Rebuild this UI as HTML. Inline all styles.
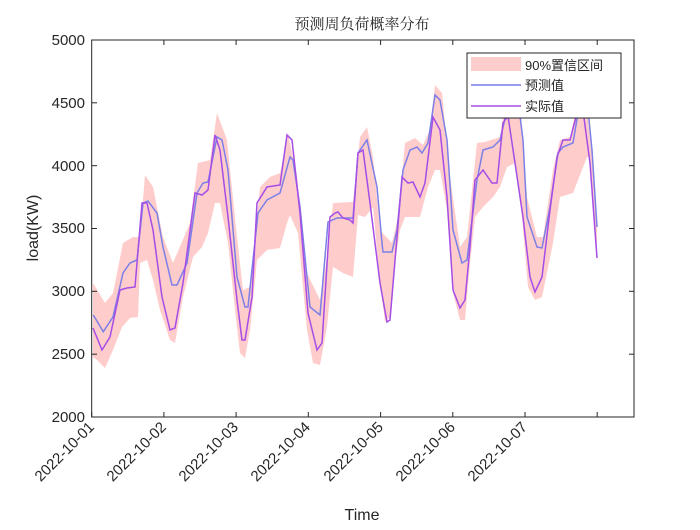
<!DOCTYPE html><html><head><meta charset="utf-8"><style>body{margin:0;background:#fff}svg text{font-family:"Liberation Sans","Noto Sans CJK SC",sans-serif}</style></head><body>
<svg width="700" height="525" viewBox="0 0 700 525" xmlns="http://www.w3.org/2000/svg">
<rect width="700" height="525" fill="#fff"/>
<polygon fill="#ffcccc" points="93,283 105,303 113,293 123,243 133,237 140,237 145,175 153,187 163,237 173,263 190,223 198,163 210,160 217,113 227,140 237,237 243,290 250,287 260,187 270,177 280,173 288,133 297,177 307,273 320,300 327,257 333,203 353,202 360,137 367,127 373,157 380,230 392,243 398,217 405,143 415,138 423,145 430,130 435,85 442,93 450,177 460,247 467,237 477,143 485,142 500,137 508,82 520,107 527,197 537,237 543,237 553,170 560,140 570,137 578,102 585,95 593,163 597,223 597,260 590,157 587,157 573,193 560,197 553,243 542,297 535,300 528,287 522,217 515,163 507,167 500,187 493,197 483,207 475,217 470,263 465,320 460,320 453,293 447,210 440,170 435,170 428,187 420,217 410,217 405,217 400,230 395,263 390,317 385,322 380,283 373,207 365,217 358,215 353,277 343,273 333,267 327,327 320,365 313,363 307,330 298,233 290,215 287,223 280,248 267,250 257,260 250,330 245,358 240,353 235,310 228,243 220,203 215,203 208,233 202,247 193,257 183,297 175,343 170,340 160,310 153,280 147,260 140,263 138,317 130,318 122,327 113,350 105,368 97,360 93,357"/>
<polyline fill="none" stroke="#7b7fe6" stroke-width="1.5" points="93.3,315 103.3,331.7 113,317 123,273 130,263 137,260 143,203 148,201 157,213 163,247 172,285 177,285 187,263 197,193 203,183 208,182 217,137 222,140 228,170 237,277 245,307 248,307 258,213 267,200 280,193 290,157 293,160 300,207 310,307 320,315 328,222 337,218 353,218 358,153 367,140 377,187 382,243 383,252 392,252 397,230 403,170 410,150 417,147 422,153 428,143 435,95 440,100 447,140 453,230 462,263 467,260 477,180 483,150 493,147 500,140 507,110 512,90 518,100 523,140 527,217 537,247 542,248 550,207 558,153 563,147 573,143 578,113 583,90 588,110 592,150 597,227"/>
<polyline fill="none" stroke="#a54de6" stroke-width="1.5" points="93,328 102,350 110,337 120,290 127,288 135,287 142,203 147,203 153,230 162,297 170,330 175,328 183,283 195,193 202,195 208,190 215,135 220,150 228,217 237,300 242,340 245,340 252,297 257,203 267,187 280,185 287,135 292,140 300,213 308,313 317,350 322,343 330,217 335,213 338,212 343,218 350,220 353,223 358,153 363,150 370,203 380,283 387,322 390,320 397,237 402,177 408,183 413,182 420,197 425,183 433,117 440,130 447,197 453,290 460,308 465,300 470,247 475,180 483,170 492,183 497,183 503,123 508,116 515,163 523,217 530,277 535,292 542,277 550,210 557,157 563,140 570,140 577,113 582,103 590,163 597,258"/>
<rect x="91.7" y="40" width="542.3" height="377" fill="none" stroke="#262626" stroke-width="1"/>
<g stroke="#262626" stroke-width="1">
<line x1="91.7" y1="417" x2="91.7" y2="412"/><line x1="163.9" y1="417" x2="163.9" y2="412"/><line x1="236.1" y1="417" x2="236.1" y2="412"/><line x1="308.3" y1="417" x2="308.3" y2="412"/><line x1="380.6" y1="417" x2="380.6" y2="412"/><line x1="452.8" y1="417" x2="452.8" y2="412"/><line x1="525" y1="417" x2="525" y2="412"/><line x1="597.2" y1="417" x2="597.2" y2="412"/>
<line x1="163.9" y1="40" x2="163.9" y2="45"/><line x1="236.1" y1="40" x2="236.1" y2="45"/><line x1="308.3" y1="40" x2="308.3" y2="45"/><line x1="380.6" y1="40" x2="380.6" y2="45"/><line x1="452.8" y1="40" x2="452.8" y2="45"/><line x1="525" y1="40" x2="525" y2="45"/><line x1="597.2" y1="40" x2="597.2" y2="45"/>
<line x1="91.7" y1="102.8" x2="97" y2="102.8"/><line x1="91.7" y1="165.7" x2="97" y2="165.7"/><line x1="91.7" y1="228.5" x2="97" y2="228.5"/><line x1="91.7" y1="291.3" x2="97" y2="291.3"/><line x1="91.7" y1="354.2" x2="97" y2="354.2"/>
<line x1="634" y1="102.8" x2="629" y2="102.8"/><line x1="634" y1="165.7" x2="629" y2="165.7"/><line x1="634" y1="228.5" x2="629" y2="228.5"/><line x1="634" y1="291.3" x2="629" y2="291.3"/><line x1="634" y1="354.2" x2="629" y2="354.2"/>
</g>
<g font-size="15" fill="#262626" text-anchor="end">
<text x="85" y="45">5000</text><text x="85" y="108">4500</text><text x="85" y="171">4000</text><text x="85" y="233">3500</text><text x="85" y="296">3000</text><text x="85" y="359">2500</text><text x="85" y="422">2000</text>
</g>
<g font-size="15" fill="#262626" text-anchor="end">
<text transform="translate(95,428) rotate(-45)">2022-10-01</text>
<text transform="translate(167,428) rotate(-45)">2022-10-02</text>
<text transform="translate(239,428) rotate(-45)">2022-10-03</text>
<text transform="translate(311,428) rotate(-45)">2022-10-04</text>
<text transform="translate(384,428) rotate(-45)">2022-10-05</text>
<text transform="translate(456,428) rotate(-45)">2022-10-06</text>
<text transform="translate(528,428) rotate(-45)">2022-10-07</text>
</g>
<text x="362" y="520" font-size="16" fill="#262626" text-anchor="middle">Time</text>
<text transform="translate(38,228) rotate(-90)" font-size="16" fill="#262626" text-anchor="middle">load(KW)</text>
<text x="362" y="29" font-size="15" fill="#262626" text-anchor="middle" style="font-family:'Noto Serif CJK SC',serif">预测周负荷概率分布</text>
<rect x="467" y="53" width="154" height="65" fill="#fff" stroke="#262626" stroke-width="1"/>
<rect x="471" y="57" width="50" height="14" fill="#ffcccc"/>
<line x1="471" y1="85" x2="521" y2="85" stroke="#7b7fe6" stroke-width="1.5"/>
<line x1="471" y1="106" x2="521" y2="106" stroke="#a54de6" stroke-width="1.5"/>
<g font-size="13" fill="#262626"><text x="525" y="70">90%置信区间</text><text x="525" y="90">预测值</text><text x="525" y="111">实际值</text></g>
</svg></body></html>
